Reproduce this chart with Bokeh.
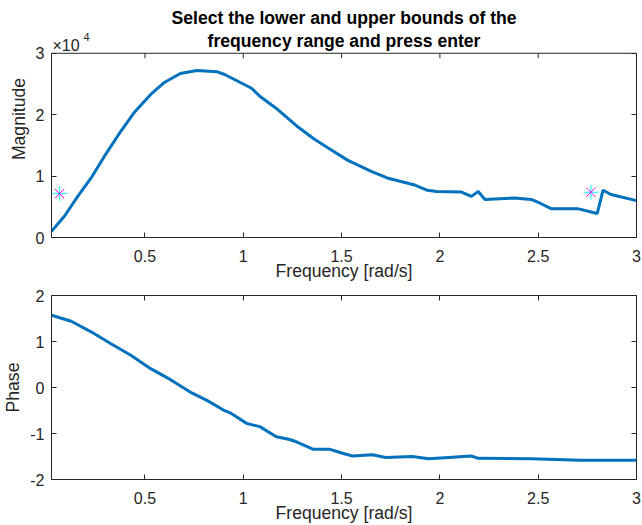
from bokeh.plotting import figure
from bokeh.models import Range1d, LinearAxis, Label, FixedTicker, Span, CustomLabelingPolicy
from bokeh.layouts import column
from bokeh.embed import file_html
from bokeh.resources import INLINE

# ---- data ----
freq_mag = [0.0245, 0.091, 0.158, 0.226, 0.293, 0.377, 0.444, 0.529, 0.596, 0.68,
            0.764, 0.865, 0.908, 0.975, 1.042, 1.084, 1.177, 1.27, 1.362, 1.446,
            1.53, 1.648, 1.732, 1.867, 1.934, 1.985, 2.11, 2.16, 2.195, 2.229,
            2.38, 2.465, 2.515, 2.566, 2.70, 2.80, 2.83, 2.87, 3.0]
magnitude = [1000, 3500, 6700, 9700, 13200, 17300, 20300, 23300, 25200, 26700,
             27200, 27000, 26500, 25400, 24300, 23000, 20800, 18200, 16000, 14300,
             12600, 10800, 9700, 8600, 7700, 7500, 7400, 6700, 7500, 6200,
             6450, 6200, 5500, 4700, 4700, 3900, 7700, 7000, 6000]

freq_ph = [0.0245, 0.125, 0.226, 0.327, 0.428, 0.529, 0.63, 0.73, 0.815, 0.899,
           0.933, 1.017, 1.084, 1.168, 1.236, 1.27, 1.354, 1.437, 1.505, 1.556,
           1.657, 1.724, 1.859, 1.943, 2.044, 2.16, 2.195, 2.465, 2.717, 3.0]
phase = [1.57, 1.44, 1.21, 0.95, 0.70, 0.41, 0.17, -0.10, -0.28, -0.49,
         -0.55, -0.78, -0.85, -1.07, -1.13, -1.18, -1.34, -1.34, -1.43, -1.49,
         -1.46, -1.52, -1.50, -1.55, -1.52, -1.49, -1.54, -1.55, -1.58, -1.58]

sel_freq = [0.066, 2.768]
sel_mag = [7150, 7370]

x_ticks = [0.5, 1, 1.5, 2, 2.5, 3]
mag_ticks = [0, 10000, 20000, 30000]
mag_tick_labels = ["0", "1", "2", "3"]
ph_ticks = [-2, -1, 0, 1, 2]
ph_tick_labels = ["-2", "-1", "0", "1", "2"]

title_lines = ["Select the lower and upper bounds of the", "frequency range and press enter"]
x_label = "Frequency [rad/s]"
exp_base = "\u00d710"
exp_power = "4"

FONT = "Liberation Sans"
AX = "#262626"
LINE = "#0072BD"
X0, X1 = 0.0245, 3.0

# layout (pixels)
FRAME_H = 185
TOP_PAD = 53          # space above the magnitude box, kept inside the frame so texts can be drawn there
BOTTOM_BORDER = 45

NO_LABELS = CustomLabelingPolicy(code="""
const all = [...indices];
for (const i of all) indices.unset(i);
return indices;
""")


def style_axis(ax, ticks, labels=None, hidden=False):
    ax.ticker = FixedTicker(ticks=ticks)
    ax.major_tick_in = 5
    ax.major_tick_out = 0
    ax.minor_tick_line_color = None
    ax.major_tick_line_color = AX
    ax.axis_line_color = None
    ax.major_label_text_font = FONT
    ax.major_label_text_color = AX
    ax.axis_label_text_font = FONT
    ax.axis_label_text_color = AX
    ax.axis_label_text_font_style = "normal"
    ax.axis_label_text_font_size = "17.6px"
    if hidden:
        ax.major_label_text_font_size = "1px"
        ax.major_label_standoff = 0
        ax.major_label_policy = NO_LABELS
    else:
        ax.major_label_text_font_size = "16px"
    if labels is not None:
        ax.major_label_overrides = {t: l for t, l in zip(ticks, labels)}


def make_fig(height, yrange, yticks, ylabels, ylabel, top):
    p = figure(width=642, height=height, output_backend="svg", toolbar_location=None,
               x_range=Range1d(X0, X1), y_range=yrange, title=None,
               min_border_left=47, min_border_right=5,
               min_border_top=top, min_border_bottom=BOTTOM_BORDER)
    p.grid.visible = False
    p.outline_line_color = AX
    p.outline_line_width = 1
    p.background_fill_color = "white"
    p.border_fill_color = "white"
    xa = p.xaxis[0]
    ya = p.yaxis[0]
    style_axis(xa, x_ticks)
    xa.major_label_standoff = 12
    xa.axis_label = x_label
    xa.axis_label_standoff = -4
    style_axis(ya, yticks, ylabels)
    ya.major_label_standoff = 7
    ya.axis_label = ylabel
    ya.axis_label_standoff = 4
    ra = LinearAxis()
    style_axis(ra, yticks, hidden=True)
    p.add_layout(ra, "right")
    return p, xa, ya, ra


# ---------------- magnitude ----------------
mag_top = mag_ticks[-1]
y_end = mag_top * (FRAME_H + TOP_PAD) / FRAME_H
p1, xa1, ya1, ra1 = make_fig(TOP_PAD + FRAME_H + BOTTOM_BORDER, Range1d(0, y_end),
                             mag_ticks, mag_tick_labels, "Magnitude", 0)
p1.outline_line_color = None
xa1.axis_line_color = AX
ya1.bounds = (0, mag_top)
ya1.axis_line_color = AX
ra1.bounds = (0, mag_top)
ra1.axis_line_color = AX
p1.add_layout(Span(location=mag_top, dimension="width", line_color=AX, line_width=1))
tick_len = 5 * mag_top / FRAME_H
p1.segment(x0=x_ticks, y0=[mag_top] * len(x_ticks), x1=x_ticks,
           y1=[mag_top - tick_len] * len(x_ticks), line_color=AX, line_width=1)

p1.line(freq_mag, magnitude, line_color=LINE, line_width=3)
p1.scatter(sel_freq, sel_mag, marker="cross", size=15, line_color="cyan", line_width=1)
p1.scatter(sel_freq, sel_mag, marker="x", size=13, line_color="magenta", line_width=1)

frame_h1 = FRAME_H + TOP_PAD
xc = (X0 + X1) / 2
for text, baseline_from_top in zip(title_lines, [18.5, 41]):
    p1.add_layout(Label(x=xc, y=frame_h1 - baseline_from_top, y_units="screen", text=text,
                        text_font=FONT, text_font_size="17.6px", text_font_style="bold",
                        text_color="black", text_align="center", text_baseline="alphabetic"))
p1.add_layout(Label(x=1, y=frame_h1 - 45.5, x_units="screen", y_units="screen", text=exp_base,
                    text_font=FONT, text_font_size="16px", text_color=AX,
                    text_baseline="alphabetic", text_align="left"))
p1.add_layout(Label(x=32, y=frame_h1 - 37, x_units="screen", y_units="screen", text=exp_power,
                    text_font=FONT, text_font_size="11px", text_color=AX,
                    text_baseline="alphabetic", text_align="left"))

# ---------------- phase ----------------
H1 = TOP_PAD + FRAME_H + BOTTOM_BORDER
top2 = 295 - H1
p2, xa2, ya2, ra2 = make_fig(525 - H1, Range1d(-2, 2), ph_ticks, ph_tick_labels, "Phase", top2)
ta2 = LinearAxis()
style_axis(ta2, x_ticks, hidden=True)
p2.add_layout(ta2, "above")
p2.line(freq_ph, phase, line_color=LINE, line_width=3)

layout = column(p1, p2, spacing=0)
open("out.html", "w").write(file_html(layout, INLINE))
